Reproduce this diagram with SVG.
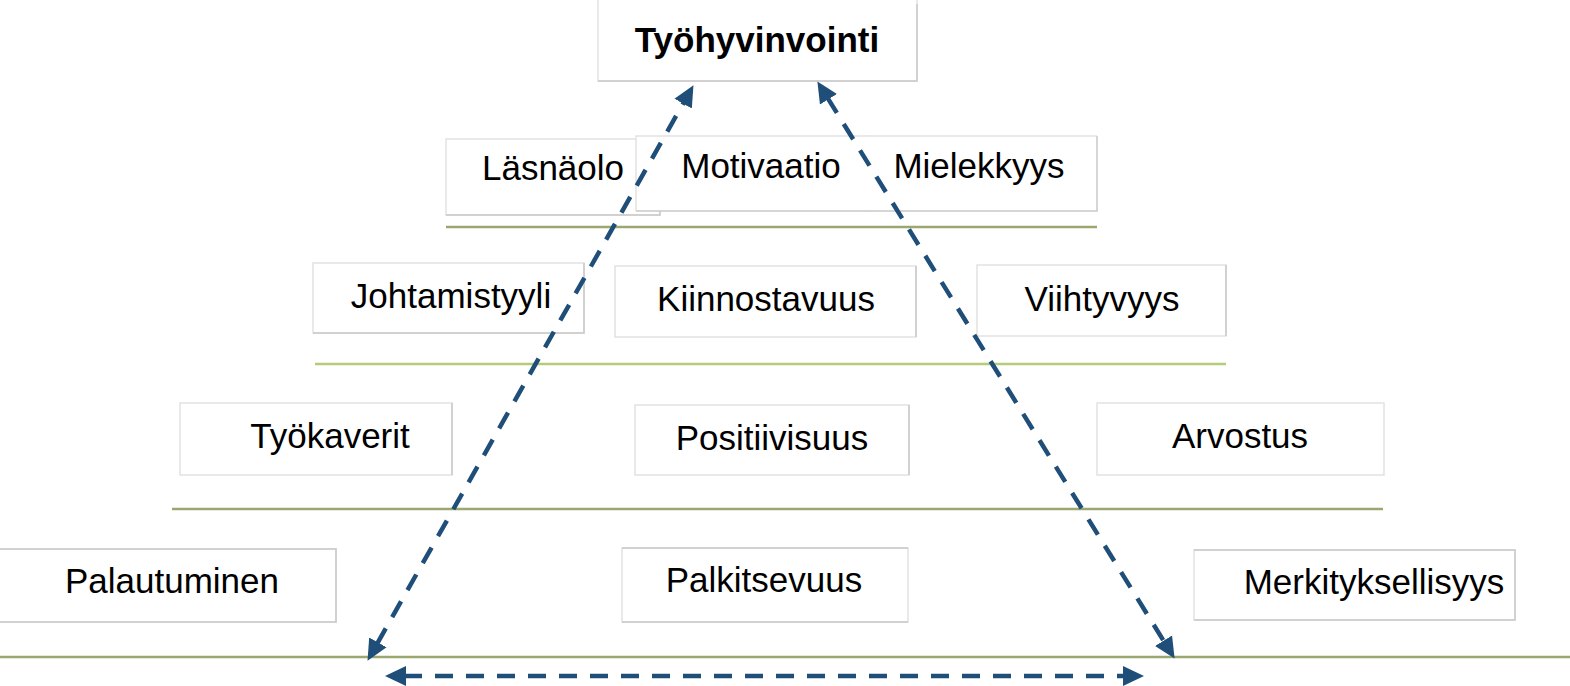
<svg xmlns="http://www.w3.org/2000/svg" width="1570" height="686" viewBox="0 0 1570 686">
<defs>
<style>
.box{fill:#ffffff;stroke:#e2e2e2;stroke-width:1.5}
.edge{fill:none;stroke:#e2e2e2;stroke-width:1.5}
.shade{fill:none;stroke:#c9c9c9;stroke-width:1.5}
.lbl{font-family:"Liberation Sans",Arial,sans-serif;font-size:35px;fill:#000;text-anchor:middle}
.title{font-weight:bold}
.base{stroke:#9aa870;stroke-width:2.5;fill:none}
.base2{stroke:#b3cc78;stroke-width:2.5;fill:none}
.conn{stroke:#1f4e79;stroke-width:4.5;fill:none;stroke-dasharray:18 13;marker-start:url(#ah);marker-end:url(#ah)}
</style>
<marker id="ah" markerUnits="userSpaceOnUse" markerWidth="22" markerHeight="22" refX="2" refY="10" orient="auto-start-reverse" viewBox="0 0 22 20">
<path d="M0,0 L21,10 L0,20 z" fill="#1f4e79"/>
</marker>
</defs>
<rect width="1570" height="686" fill="#ffffff"/>
<g id="baselines">
<line class="base" x1="446" y1="227" x2="1097" y2="227"/>
<line class="base2" x1="315" y1="364" x2="1226" y2="364"/>
<line class="base" x1="172" y1="509" x2="1383" y2="509"/>
<line class="base" x1="0" y1="657" x2="1570" y2="657"/>
</g>
<g id="tyohyvinvointi">
<rect class="box" x="598" y="-2" width="319" height="83"/>
<path class="shade" d="M917,4 V81 H598"/>
<text class="lbl title" x="757" y="52">Työhyvinvointi</text>
</g>
<g id="lasnaolo">
<rect class="box" x="446" y="139" width="214" height="76"/>
<path class="shade" d="M660,139 V215 H446"/>
<text class="lbl" x="553" y="180">Läsnäolo</text>
</g>
<g id="motivaatio">
<rect x="636" y="136" width="231" height="75" fill="#ffffff"/>
<path class="edge" d="M867,136 H636 V211"/>
<path class="shade" d="M636,211 H867"/>
<text class="lbl" x="761" y="178">Motivaatio</text>
</g>
<g id="mielekkyys">
<rect x="866" y="136" width="231" height="75" fill="#ffffff"/>
<path class="edge" d="M866,136 H1097"/>
<path class="shade" d="M1097,136 V211 H866"/>
<text class="lbl" x="979" y="178">Mielekkyys</text>
</g>
<g id="johtamistyyli">
<rect class="box" x="313" y="263" width="271" height="70"/>
<path class="shade" d="M584,263 V333 H313"/>
<text class="lbl" x="451" y="308">Johtamistyyli</text>
</g>
<g id="kiinnostavuus">
<rect class="box" x="615" y="266" width="301" height="71"/>
<path class="shade" d="M916,266 V337"/>
<text class="lbl" x="766" y="311">Kiinnostavuus</text>
</g>
<g id="viihtyvyys">
<rect class="box" x="977" y="265" width="249" height="71"/>
<path class="shade" d="M1226,265 V336"/>
<text class="lbl" x="1102" y="311">Viihtyvyys</text>
</g>
<g id="tyokaverit">
<rect class="box" x="180" y="403" width="272" height="72"/>
<path class="shade" d="M452,403 V475"/>
<text class="lbl" x="330" y="448">Työkaverit</text>
</g>
<g id="positiivisuus">
<rect class="box" x="635" y="405" width="274" height="70"/>
<path class="shade" d="M909,405 V475"/>
<text class="lbl" x="772" y="450">Positiivisuus</text>
</g>
<g id="arvostus">
<rect class="box" x="1097" y="403" width="287" height="72"/>
<text class="lbl" x="1240" y="448">Arvostus</text>
</g>
<g id="palautuminen">
<rect class="box" x="-2" y="549" width="338" height="73"/>
<path class="shade" d="M0,549 H336 V622 H0"/>
<text class="lbl" x="172" y="593">Palautuminen</text>
</g>
<g id="palkitsevuus">
<rect class="box" x="622" y="548" width="286" height="74"/>
<path class="shade" d="M622,548 H908 M908,622 H622"/>
<text class="lbl" x="764" y="592">Palkitsevuus</text>
</g>
<g id="merkityksellisyys">
<rect class="box" x="1194" y="550" width="321" height="70"/>
<path class="shade" d="M1194,550 H1515 V620 H1194"/>
<text class="lbl" x="1374" y="594">Merkityksellisyys</text>
</g>
<g id="connectors">
<line class="conn" x1="376.9" y1="644.1" x2="684.1" y2="101.9"/>
<line class="conn" x1="827.4" y1="97.6" x2="1164.6" y2="642.4"/>
<line class="conn" x1="404" y1="676" x2="1125" y2="676"/>
</g>
</svg>
